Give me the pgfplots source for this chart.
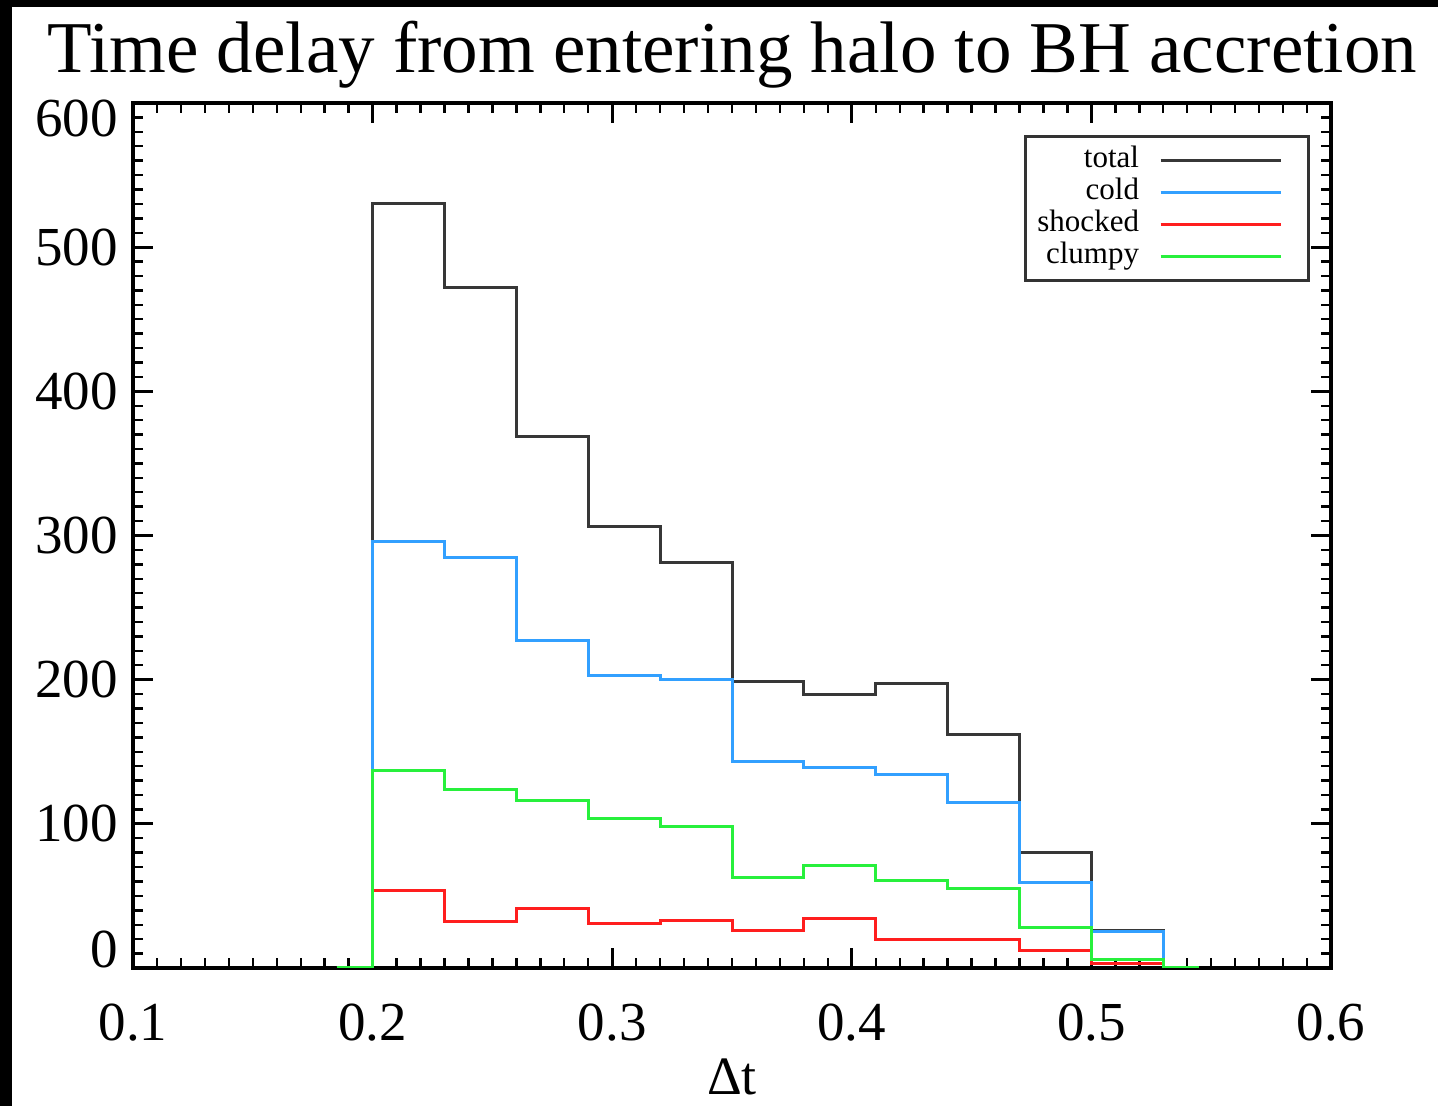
\documentclass[border=0pt]{standalone}
\usepackage{fontspec}
\setmainfont{Liberation Serif}
\usepackage{pgfplots}
\pgfplotsset{compat=1.18}

\definecolor{totalc}{RGB}{55,55,55}
\definecolor{coldc}{RGB}{50,160,255}
\definecolor{shockc}{RGB}{255,30,30}
\definecolor{clumpc}{RGB}{40,240,60}

\begin{document}
\begin{tikzpicture}
% dark frame of the screenshot
\fill[black] (-66.5pt,-69pt) rectangle (652.5pt,484pt);
\fill[white] (-60.5pt,-69pt) rectangle (652.5pt,480.5pt);
\begin{axis}[
    scale only axis,
    width=599pt, height=432.5pt,
    xmin=0.1, xmax=0.6, ymin=0, ymax=600,
    xtick={0.1,0.2,0.3,0.4,0.5,0.6},
    xticklabels={0.1,0.2,0.3,0.4,0.5,0.6},
    ytick={0,100,200,300,400,500,600},
    yticklabels={\smash{0},100,200,300,400,500,\smash{\raisebox{-17pt}{600}}},
    minor x tick num=9, minor y tick num=9,
    tick align=inside,
    major tick length=10pt, minor tick length=5pt,
    major tick style={line width=1.5pt, black},
    minor tick style={line width=1.2pt, black},
    axis line style={line width=2pt},
    tick label style={font=\fontsize{27.5}{31}\selectfont},
    /pgf/number format/assume math mode=true,
    xticklabel style={anchor=base, yshift=-36pt},
    yticklabel style={anchor=east, inner sep=0pt, xshift=-7.5pt},
    title={Time delay from entering halo to BH accretion},
    title style={at={(0.5,1)}, anchor=base, yshift=9pt, font=\fontsize{36.5}{42}\selectfont},
    xlabel={Δt},
    xlabel style={at={(0.5,0)}, anchor=base, yshift=-63pt, font=\fontsize{27}{31}\selectfont},
    legend plot pos=right,
    legend cell align=right,
    legend image code/.code={\path[draw=none] (0pt,0pt) -- (69pt,0pt); \draw[#1] (0pt,0pt) -- (60pt,0pt);},
    legend style={at={(1,1)}, anchor=north east, xshift=-10.5pt, yshift=-16pt,
        draw=black!80, line width=1.5pt, inner xsep=5pt, inner ysep=4.5pt,
        font=\fontsize{15.5}{17}\selectfont, row sep=1pt,
        nodes={inner sep=1pt, text height=10pt, text depth=3pt},
        /tikz/every odd column/.append style={column sep=9pt}},
]
\addplot[const plot, totalc, line width=1.5pt] coordinates {
    (0.185,0) (0.2,530) (0.23,472) (0.26,369) (0.29,306) (0.32,281) (0.35,199)
    (0.38,190) (0.41,197) (0.44,162) (0.47,80) (0.5,26) (0.53,0) (0.545,0)
};
\addplot[const plot, coldc, line width=1.5pt] coordinates {
    (0.185,0) (0.2,296) (0.23,285) (0.26,227) (0.29,203) (0.32,200) (0.35,143)
    (0.38,139) (0.41,134) (0.44,115) (0.47,59) (0.5,25) (0.53,0) (0.545,0)
};
\addplot[const plot, shockc, line width=1.5pt] coordinates {
    (0.185,0) (0.2,54) (0.23,32) (0.26,41) (0.29,31) (0.32,33) (0.35,26)
    (0.38,34) (0.41,20) (0.44,20) (0.47,12) (0.5,3) (0.53,0) (0.545,0)
};
\addplot[const plot, clumpc, line width=1.5pt] coordinates {
    (0.185,0) (0.2,137) (0.23,124) (0.26,116) (0.29,104) (0.32,98) (0.35,63)
    (0.38,71) (0.41,61) (0.44,55) (0.47,28) (0.5,6) (0.53,0) (0.545,0)
};
\legend{total, cold, shocked, clumpy}
\end{axis}
\end{tikzpicture}
\end{document}
